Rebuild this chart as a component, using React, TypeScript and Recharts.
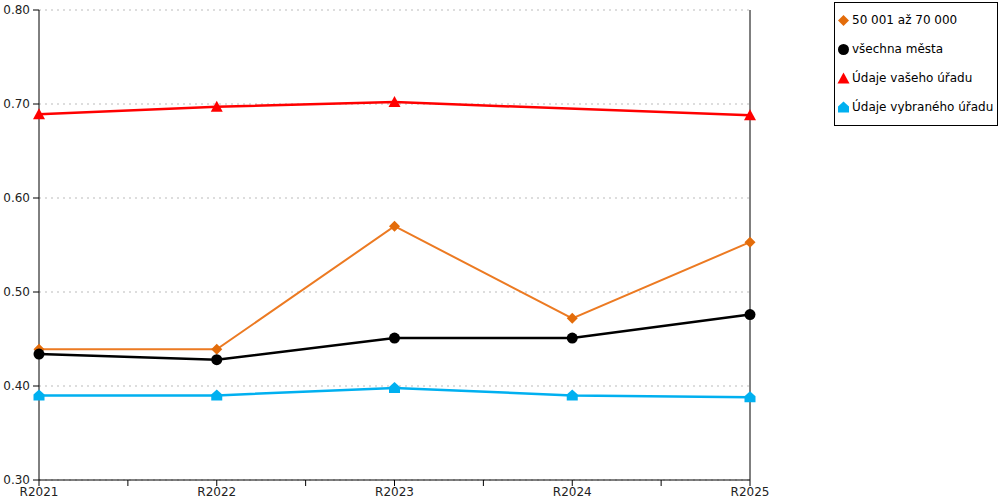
import React from 'react';
import { LineChart, Line, XAxis, YAxis, CartesianGrid, ReferenceLine } from 'recharts';

const categories = ['R2021', 'R2022', 'R2023', 'R2024', 'R2025'];
const group50k = [0.439, 0.439, 0.57, 0.472, 0.553];
const allCities = [0.434, 0.428, 0.451, 0.451, 0.476];
const yourOffice: (number | null)[] = [0.689, 0.697, 0.702, null, 0.688];
const selectedOffice = [0.39, 0.39, 0.398, 0.39, 0.388];
const yTicks = [0.3, 0.4, 0.5, 0.6, 0.7, 0.8];
const xTicks = [0, 0.5, 1, 1.5, 2, 2.5, 3, 3.5, 4];

const seriesNames = ['50 001 až 70 000', 'všechna města', 'Údaje vašeho úřadu', 'Údaje vybraného úřadu'];
const markerColors = ['#E36C0A', '#000000', '#FF0000', '#00B0F0'];
const lineColors = ['#EC7A22', '#000000', '#FF0000', '#00B0F0'];
const shapes = ['diamond', 'circle', 'triangle', 'house'];

const data = categories.map((c, i) => ({
  x: i,
  name: c,
  g50: group50k[i],
  all: allCities[i],
  yours: yourOffice[i],
  sel: selectedOffice[i],
}));

const FONT = 'Verdana, "DejaVu Sans", sans-serif';

function Marker({ shape, cx, cy, color }: { shape: string; cx: number; cy: number; color: string }) {
  if (shape === 'diamond') {
    return <polygon points={`${cx},${cy - 5.5} ${cx + 5.5},${cy} ${cx},${cy + 5.5} ${cx - 5.5},${cy}`} fill={color} />;
  }
  if (shape === 'circle') {
    return <circle cx={cx} cy={cy} r={5.5} fill={color} />;
  }
  if (shape === 'triangle') {
    return <polygon points={`${cx},${cy - 6} ${cx + 6},${cy + 5} ${cx - 6},${cy + 5}`} fill={color} />;
  }
  return (
    <polygon
      points={`${cx},${cy - 6} ${cx + 5.5},${cy - 1} ${cx + 5.5},${cy + 5} ${cx - 5.5},${cy + 5} ${cx - 5.5},${cy - 1}`}
      fill={color}
    />
  );
}

const makeDot = (idx: number) => (props: any) => {
  const { cx, cy, index, value } = props;
  if (cx == null || cy == null || value == null || (Array.isArray(value) && value[1] == null)) {
    return <g key={`d${idx}-${index}`} />;
  }
  return (
    <g key={`d${idx}-${index}`}>
      <Marker shape={shapes[idx]} cx={cx} cy={cy} color={markerColors[idx]} />
    </g>
  );
};

function LegendBox() {
  return (
    <div
      style={{
        position: 'absolute',
        left: 834,
        top: 2,
        border: '1px solid #000',
        background: '#fff',
        width: 162,
        height: 122,
        boxSizing: 'content-box',
        fontFamily: FONT,
        fontSize: 12,
        color: '#000',
      }}
    >
      {seriesNames.map((n, i) => (
        <div key={n} style={{ position: 'absolute', left: 2, top: 9 + i * 29, display: 'flex', alignItems: 'center', height: 16 }}>
          <svg width={13} height={14} style={{ marginRight: 2 }}>
            <Marker shape={shapes[i]} cx={6.5} cy={7.5} color={markerColors[i]} />
          </svg>
          <span style={{ whiteSpace: 'nowrap' }}>{n}</span>
        </div>
      ))}
    </div>
  );
}

export default function App() {
  return (
    <div style={{ position: 'absolute', left: 0, top: 0, width: 1000, height: 500, background: '#fff' }}>
      <LineChart width={1000} height={500} data={data} margin={{ top: 10, right: 250, bottom: 0, left: 0 }}>
        <CartesianGrid horizontal vertical={false} stroke="#bbbbbb" strokeDasharray="2 4" />
        <XAxis
          dataKey="x"
          type="number"
          domain={[0, 4]}
          ticks={xTicks}
          interval={0}
          height={20}
          tickSize={6}
          tickMargin={1}
          axisLine={{ stroke: '#000' }}
          tickLine={{ stroke: '#000' }}
          tick={{ fill: '#222', fontSize: 12, fontFamily: FONT }}
          tickFormatter={(v: number) => (Number.isInteger(v) ? categories[v] : '')}
        />
        <YAxis
          type="number"
          domain={[0.3, 0.8]}
          ticks={yTicks}
          interval={0}
          width={39}
          tickSize={6}
          tickMargin={3}
          axisLine={{ stroke: '#000' }}
          tickLine={{ stroke: '#000' }}
          tick={{ fill: '#222', fontSize: 12, fontFamily: FONT }}
          tickFormatter={(v: number) => v.toFixed(2)}
        />
        <ReferenceLine x={4} stroke="#000" strokeWidth={1} />
        <Line dataKey="g50" name={seriesNames[0]} stroke={lineColors[0]} strokeWidth={2} dot={makeDot(0)} isAnimationActive={false} />
        <Line dataKey="all" name={seriesNames[1]} stroke={lineColors[1]} strokeWidth={2.5} dot={makeDot(1)} isAnimationActive={false} />
        <Line dataKey="yours" name={seriesNames[2]} stroke={lineColors[2]} strokeWidth={2.5} connectNulls dot={makeDot(2)} isAnimationActive={false} />
        <Line dataKey="sel" name={seriesNames[3]} stroke={lineColors[3]} strokeWidth={2.5} dot={makeDot(3)} isAnimationActive={false} />
      </LineChart>
      <LegendBox />
    </div>
  );
}
